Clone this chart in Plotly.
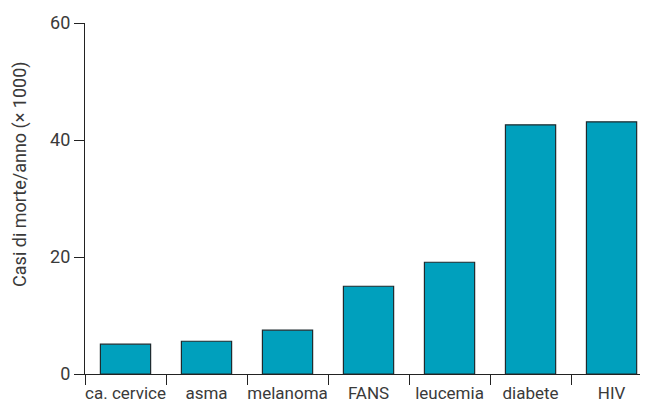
import plotly.graph_objects as go

categories = ["ca. cervice", "asma", "melanoma", "FANS", "leucemia", "diabete", "HIV"]
deaths = [5.1, 5.6, 7.5, 15.0, 19.1, 42.6, 43.1]
y_ticks = [0, 20, 40, 60]

font_family = "Roboto, sans-serif"
text_color = "#3a3a3a"

fig = go.Figure(
    go.Bar(
        x=categories,
        y=deaths,
        width=0.62,
        marker=dict(color="#00a0bd", line=dict(color="#1e2a2e", width=1.2)),
    )
)

fig.update_layout(
    width=640,
    height=402,
    margin=dict(l=77, r=0, t=15, b=36),
    paper_bgcolor="white",
    plot_bgcolor="white",
    showlegend=False,
    font=dict(family=font_family, size=17, color=text_color),
    xaxis=dict(
        type="category",
        range=[-0.5, 6.45],
        automargin=False,
        showline=True,
        linecolor="#222",
        linewidth=1.3,
        ticks="outside",
        tickson="boundaries",
        ticklen=10,
        tickcolor="#222",
        tickwidth=1.3,
        tickangle=0,
        ticklabelstandoff=3,
        showgrid=False,
        tickfont=dict(family=font_family, size=17, color=text_color),
    ),
    yaxis=dict(
        range=[0, 60],
        automargin=False,
        tickvals=y_ticks,
        showline=True,
        linecolor="#222",
        linewidth=1.3,
        ticks="outside",
        ticklen=10,
        tickcolor="#222",
        tickwidth=1.3,
        ticklabelstandoff=0,
        showgrid=False,
        zeroline=False,
        tickfont=dict(family=font_family, size=18, color=text_color),
    ),
    annotations=[
        dict(
            text="Casi di morte/anno (× 1000)",
            xref="paper", yref="paper",
            x=-0.1155, y=0.57,
            xanchor="center", yanchor="middle",
            textangle=-90, showarrow=False,
            font=dict(family=font_family, size=18, color=text_color),
        )
    ],
)

fig.write_html("out.html")
